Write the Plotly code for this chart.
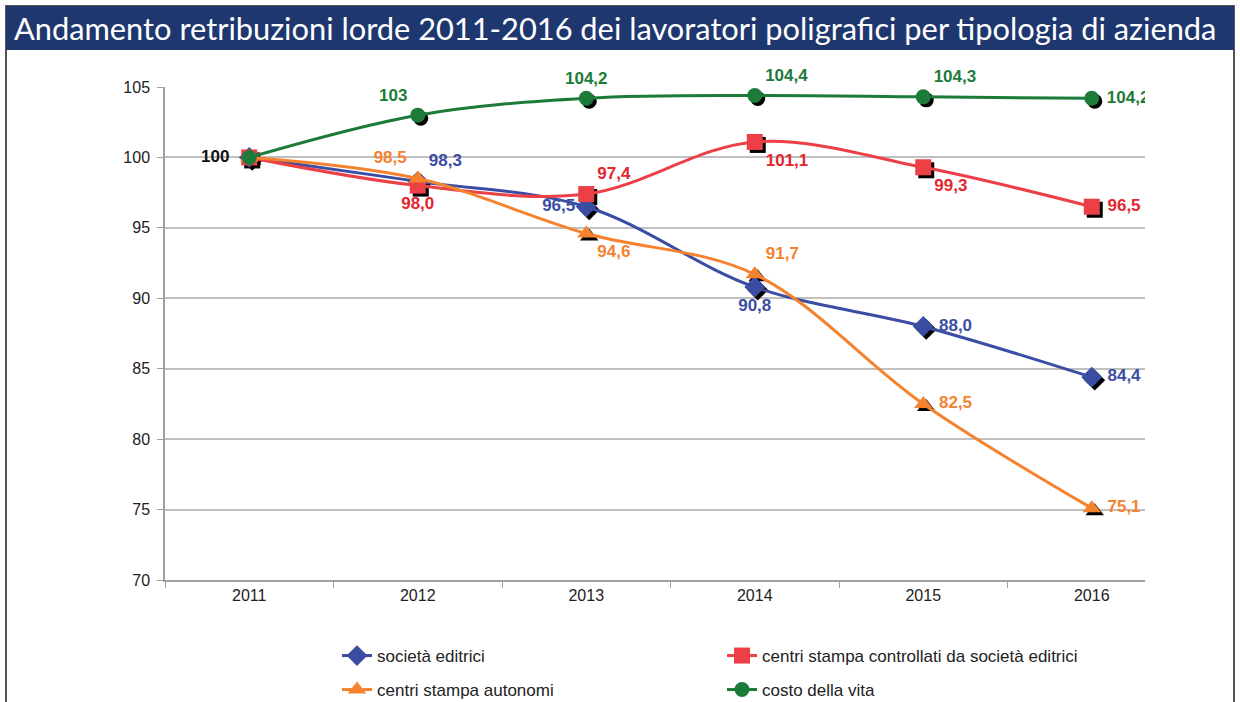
import plotly.graph_objects as go

years = ["2011", "2012", "2013", "2014", "2015", "2016"]
societa_editrici = [100, 98.3, 96.5, 90.8, 88.0, 84.4]
centri_controllati = [100, 98.0, 97.4, 101.1, 99.3, 96.5]
centri_autonomi = [100, 98.5, 94.6, 91.7, 82.5, 75.1]
costo_vita = [100, 103, 104.2, 104.4, 104.3, 104.2]

labels_editrici = ["", "98,3", "96,5", "90,8", "88,0", "84,4"]
labels_controllati = ["", "98,0", "97,4", "101,1", "99,3", "96,5"]
labels_autonomi = ["", "98,5", "94,6", "91,7", "82,5", "75,1"]
labels_vita = ["100", "103", "104,2", "104,4", "104,3", "104,2"]

title_text = "Andamento retribuzioni lorde 2011-2016 dei lavoratori poligrafici per tipologia di azienda"

BLUE = "#3B4DA3"
RED = "#EC4046"
ORANGE = "#F5822F"
GREEN = "#1D7B3A"
NAVY = "#1F376F"

series = [
    dict(name="società editrici", y=societa_editrici, text=labels_editrici, color=BLUE,
         symbol="diamond", size=16, lpad=0,
         pos=["middle left", "top right", "middle left", "bottom center", "middle right", "middle right"],
         tcolor=[BLUE] * 6, legend="legend"),
    dict(name="centri stampa controllati da società editrici", y=centri_controllati, text=labels_controllati,
         color=RED, symbol="square", size=16, lpad=0,
         pos=["middle left", "bottom center", "top right", "bottom right", "bottom right", "middle right"],
         tcolor=["#E3262E"] * 6, legend="legend"),
    dict(name="centri stampa autonomi", y=centri_autonomi, text=labels_autonomi, color=ORANGE,
         symbol="triangle-up", size=16, lpad=0,
         pos=["middle left", "top left", "bottom right", "top right", "middle right", "middle right"],
         tcolor=[ORANGE] * 6, legend="legend2"),
    dict(name="costo della vita", y=costo_vita, text=labels_vita, color=GREEN,
         symbol="circle", size=15, lpad=2,
         pos=["middle left", "top left", "top center", "top right", "top right", "middle right"],
         tcolor=["#111111"] + [GREEN] * 5, legend="legend2"),
]

NB = "\u00a0"

def pad(t, p, lpad):
    # small spacing so labels sit a little further from their marker
    if not t:
        return t
    if p == "middle right":
        return NB + t
    if p == "middle left":
        return t + NB * lpad
    return t

fig = go.Figure()

W, H = 1240, 702
L, R, T, B = 165, 1145, 87, 580   # plot area in px
cat_px = 168.5
xr = [-0.5, -0.5 + (R - L) / cat_px]
yr = [70, 105]
ppu = (B - T) / (yr[1] - yr[0])
sh = 3  # shadow offset px
last = len(years) - 1

# invisible carrier trace so the visible base axes get drawn
fig.add_trace(go.Scatter(x=years, y=costo_vita, mode="lines", line=dict(width=0, color="rgba(0,0,0,0)"),
                         showlegend=False, hoverinfo="skip"))

# shadows (overlay axes x2/y2, shifted a few px right/down)
for s in series:
    fig.add_trace(go.Scatter(
        x=years, y=s["y"], mode="markers", xaxis="x2", yaxis="y2",
        marker=dict(symbol=s["symbol"], size=s["size"], color="#000000"),
        showlegend=False, hoverinfo="skip"))

for s in series:
    txt = [pad(t, p, s["lpad"]) for t, p in zip(s["text"], s["pos"])]
    clipped = [t if i == last else "" for i, t in enumerate(txt)]
    free = [t if i != last else "" for i, t in enumerate(txt)]
    tf = dict(family="Liberation Sans, Arial", size=17, color=s["tcolor"], weight="bold")
    fig.add_trace(go.Scatter(
        x=years, y=s["y"], name=s["name"], mode="lines+markers+text", xaxis="x3", yaxis="y3",
        line=dict(color=s["color"], width=3, shape="spline", smoothing=1.0),
        marker=dict(symbol=s["symbol"], size=s["size"], color=s["color"]),
        text=clipped, textposition=s["pos"], textfont=tf,
        cliponaxis=True, legend=s["legend"]))
    fig.add_trace(go.Scatter(
        x=years, y=s["y"], mode="markers+text", xaxis="x3", yaxis="y3",
        marker=dict(symbol=s["symbol"], size=s["size"], color="rgba(0,0,0,0)"),
        text=free, textposition=s["pos"], textfont=tf,
        cliponaxis=False, showlegend=False, hoverinfo="skip"))

def px2x(p):
    return (p - L) / (R - L)

def py2y(p):
    return (B - p) / (B - T)

cat_common = dict(type="category", categoryorder="array", categoryarray=years)

fig.update_layout(
    width=W, height=H,
    margin=dict(l=L, r=W - R, t=T, b=H - B, autoexpand=False),
    paper_bgcolor="white", plot_bgcolor="white",
    font=dict(family="Liberation Sans, Arial", size=16, color="#222222"),
    hovermode=False,
    xaxis=dict(**cat_common, range=xr,
               showgrid=False, showline=True, linecolor="#A0A0A0", linewidth=1.5,
               ticks="outside", tickson="boundaries", ticklen=6, tickcolor="#A0A0A0",
               tickfont=dict(size=16, color="#222222"), zeroline=False),
    yaxis=dict(range=yr, dtick=5, tick0=70, showgrid=True, gridcolor="#C0C0C0", gridwidth=1.5,
               showline=True, linecolor="#A0A0A0", linewidth=1.5, ticks="outside", ticklen=6,
               tickcolor="#A0A0A0", tickfont=dict(size=16, color="#222222"), zeroline=False,
               ticklabelstandoff=4),
    xaxis2=dict(**cat_common, overlaying="x",
                range=[xr[0] - sh / cat_px, xr[1] - sh / cat_px], visible=False),
    yaxis2=dict(overlaying="y", range=[yr[0] + sh / ppu, yr[1] + sh / ppu], visible=False),
    xaxis3=dict(**cat_common, overlaying="x", range=xr, visible=False),
    yaxis3=dict(overlaying="y", range=yr, visible=False),
    legend=dict(orientation="h", x=px2x(337), y=py2y(656), xanchor="left", yanchor="middle",
                entrywidth=340, font=dict(size=17, color="#222222"), itemwidth=30,
                bgcolor="rgba(0,0,0,0)"),
    legend2=dict(orientation="h", x=px2x(337), y=py2y(690), xanchor="left", yanchor="middle",
                 entrywidth=340, font=dict(size=17, color="#222222"), itemwidth=30,
                 bgcolor="rgba(0,0,0,0)"),
    shapes=[
        dict(type="rect", xref="paper", yref="paper", x0=px2x(6), x1=px2x(1234), y0=py2y(6), y1=py2y(712),
             line=dict(color="#555555", width=2), fillcolor="rgba(0,0,0,0)", layer="below"),
        dict(type="rect", xref="paper", yref="paper", x0=px2x(6), x1=px2x(1234), y0=py2y(6), y1=py2y(50),
             line=dict(width=0), fillcolor=NAVY, layer="below"),
    ],
    annotations=[
        dict(text=title_text, xref="paper", yref="paper", x=px2x(12), y=py2y(29),
             xanchor="left", yanchor="middle", showarrow=False,
             font=dict(family="Lato, DejaVu Sans", size=30.8, color="white", weight=400)),
    ],
)

fig.write_html("out.html", config={"displayModeBar": False},
               post_script="document.body.style.margin='0px';")
